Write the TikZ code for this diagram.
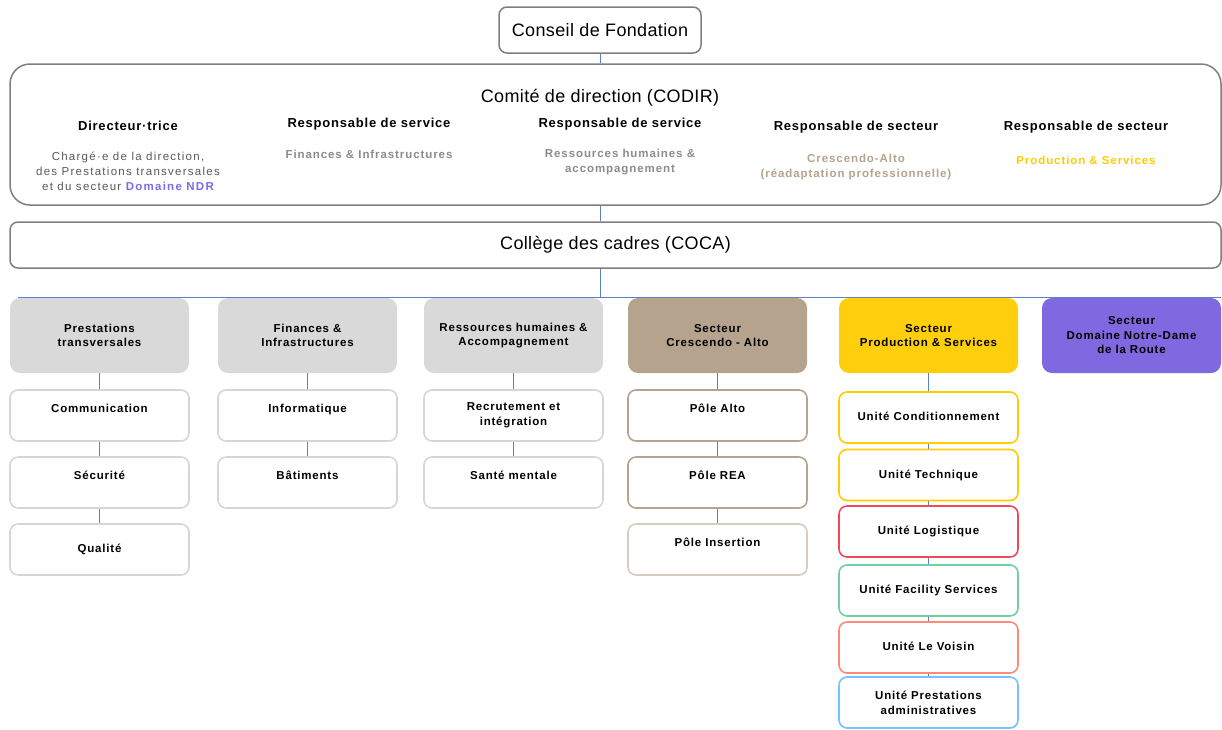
\documentclass[tikz,border=0pt]{standalone}
\usepackage{fontspec}
\setmainfont{Liberation Sans}
\newfontfamily\ftitle[LetterSpace=2]{Liberation Sans}
\newfontfamily\fhead[LetterSpace=6]{Liberation Sans}
\newfontfamily\fsub[LetterSpace=8]{Liberation Sans}
\newfontfamily\fsubr[LetterSpace=11]{Liberation Sans}
\newfontfamily\fnode[LetterSpace=7]{Liberation Sans}
\definecolor{connblue}{HTML}{5A80CC}
\definecolor{bordergray}{HTML}{7F7F7F}
\definecolor{topgray}{HTML}{D9D9D9}
\definecolor{tanfill}{HTML}{B5A38E}
\definecolor{yelfill}{HTML}{FFCF0D}
\definecolor{purpfill}{HTML}{7F68E0}
\definecolor{childgray}{HTML}{D6D6D6}
\definecolor{tanborder}{HTML}{B5A38E}
\definecolor{lighttan}{HTML}{D8CCBE}
\definecolor{yelborder}{HTML}{FFCC00}
\definecolor{redborder}{HTML}{EF4A5A}
\definecolor{greenborder}{HTML}{6FD0A4}
\definecolor{salmonborder}{HTML}{FF8A7A}
\definecolor{blueborder}{HTML}{70C5FF}
\definecolor{ndrtext}{HTML}{7B6BEA}
\definecolor{subgray}{HTML}{8C8C8C}
\definecolor{subdark}{HTML}{595959}
\definecolor{yeltext}{HTML}{FFCC00}
\begin{document}
\begin{tikzpicture}[x=1pt,y=-1pt,
  bigbox/.style={draw=bordergray, line width=1.5pt, fill=white, rounded corners=8pt, inner sep=0pt,
    font=\ftitle\fontsize{18}{21}\selectfont},
  titletext/.style={font=\ftitle\fontsize{18}{21}\selectfont, inner sep=0pt},
  headtext/.style={font=\fhead\bfseries\fontsize{13}{15}\selectfont, inner sep=0pt},
  subtext/.style={font=\fsub\bfseries\fontsize{11.5}{15}\selectfont, inner sep=0pt, align=center},
  subtextr/.style={font=\fsubr\fontsize{11.5}{15}\selectfont, inner sep=0pt, align=center, text=subdark},
  topbox/.style={rounded corners=10pt, minimum width=179pt, minimum height=75pt, inner sep=0pt, align=center,
    font=\fnode\bfseries\fontsize{11.5}{14.5}\selectfont},
  childbox/.style={draw=childgray, fill=white, line width=1.6pt, rounded corners=8pt, minimum width=179pt,
    minimum height=51pt, inner sep=0pt, align=center, font=\fnode\bfseries\fontsize{11.5}{15}\selectfont},
  upper/.style={text height=8pt, text depth=15pt},
  mid/.style={text height=8pt, text depth=2pt},
  conn/.style={draw=connblue, line width=0.9pt}]
\useasboundingbox (0,0) rectangle (1222,729);

% top level
\node[bigbox, minimum width=202pt, minimum height=46pt] (conseil) at (600,30) {Conseil de Fondation};
\node[bigbox, rounded corners=20pt, minimum width=1211pt, minimum height=141pt] (codir) at (615.5,134.5) {};
\node[bigbox, minimum width=1211pt, minimum height=46pt] (coca) at (615.5,245) {Collège des cadres (COCA)};

% CODIR content
\node[titletext] (codirt) at (600,98) {Comité de direction (CODIR)};
\node[headtext] (h1) at (128,126) {Directeur·trice};
\node[headtext] (h2) at (369,124) {Responsable de service};
\node[headtext] (h3) at (620,124) {Responsable de service};
\node[headtext] (h4) at (856,127) {Responsable de secteur};
\node[headtext] (h5) at (1086,127) {Responsable de secteur};
\node[subtextr] (s1) at (128,171) {Chargé·e de la direction,\\des Prestations transversales\\et du secteur {\bfseries\color{ndrtext}Domaine NDR}};
\node[subtext, text=subgray] (s2) at (369,154) {Finances \& Infrastructures};
\node[subtext, text=subgray] (s3) at (620,162) {Ressources humaines \&\\accompagnement};
\node[subtext, text=tanborder] (s4) at (856,167) {Crescendo-Alto\\(réadaptation professionnelle)};
\node[subtext, text=yeltext] (s5) at (1086,160) {Production \& Services};

% bus
\coordinate (busL) at (18,297);
\coordinate (busR) at (1221,297);

% departments
\node[topbox, fill=topgray] (pt) at (99.5,335.5) {Prestations\\transversales};
\node[topbox, fill=topgray] (fi) at (307.5,335.5) {Finances \&\\Infrastructures};
\node[topbox, fill=topgray] (rh) at (513.5,335.5) {Ressources humaines \&\\Accompagnement};
\node[topbox, fill=tanfill] (ca) at (717.5,335.5) {Secteur\\Crescendo - Alto};
\node[topbox, fill=yelfill] (ps) at (928.5,335.5) {Secteur\\Production \& Services};
\node[topbox, fill=purpfill] (ndr) at (1131.5,335.5) {Secteur\\Domaine Notre-Dame\\de la Route};

% column 1
\node[childbox, upper] (com) at (99.5,415.5) {Communication};
\node[childbox, upper] (sec) at (99.5,482.5) {Sécurité};
\node[childbox, mid] (qual) at (99.5,549.5) {Qualité};
% column 2
\node[childbox, upper] (inf) at (307.5,415.5) {Informatique};
\node[childbox, upper] (bat) at (307.5,482.5) {Bâtiments};
% column 3
\node[childbox] (rec) at (513.5,415.5) {Recrutement et\\intégration};
\node[childbox, upper] (sm) at (513.5,482.5) {Santé mentale};
% column 4
\node[childbox, upper, draw=tanborder] (alto) at (717.5,415.5) {Pôle Alto};
\node[childbox, upper, draw=tanborder] (rea) at (717.5,482.5) {Pôle REA};
\node[childbox, upper, draw=lighttan] (ins) at (717.5,549.5) {Pôle Insertion};
% column 5
\node[childbox, mid, draw=yelborder] (cond) at (928.5,417.5) {Unité Conditionnement};
\node[childbox, mid, draw=yelborder] (tech) at (928.5,475) {Unité Technique};
\node[childbox, mid, draw=redborder] (logi) at (928.5,531.5) {Unité Logistique};
\node[childbox, mid, draw=greenborder] (fac) at (928.5,590.5) {Unité Facility Services};
\node[childbox, mid, draw=salmonborder] (voi) at (928.5,647.5) {Unité Le Voisin};
\node[childbox, draw=blueborder] (adm) at (928.5,702.5) {Unité Prestations\\administratives};

% connectors
\draw[conn] (conseil.south) -- (conseil.south |- codir.north);
\draw[conn] (conseil.south |- codir.south) -- (conseil.south |- coca.north);
\draw[conn] (conseil.south |- coca.south) -- (conseil.south |- busL);
\draw[conn] (busL) -- (busR);
\draw[conn] (pt) -- (com);
\draw[conn] (com) -- (sec);
\draw[conn] (sec) -- (qual);
\draw[conn] (fi) -- (inf);
\draw[conn] (inf) -- (bat);
\draw[conn] (rh) -- (rec);
\draw[conn] (rec) -- (sm);
\draw[conn] (ca) -- (alto);
\draw[conn] (alto) -- (rea);
\draw[conn] (rea) -- (ins);
\draw[conn] (ps) -- (cond);
\draw[conn] (cond) -- (tech);
\draw[conn] (tech) -- (logi);
\draw[conn] (logi) -- (fac);
\draw[conn] (fac) -- (voi);
\draw[conn] (voi) -- (adm);
\end{tikzpicture}
\end{document}
